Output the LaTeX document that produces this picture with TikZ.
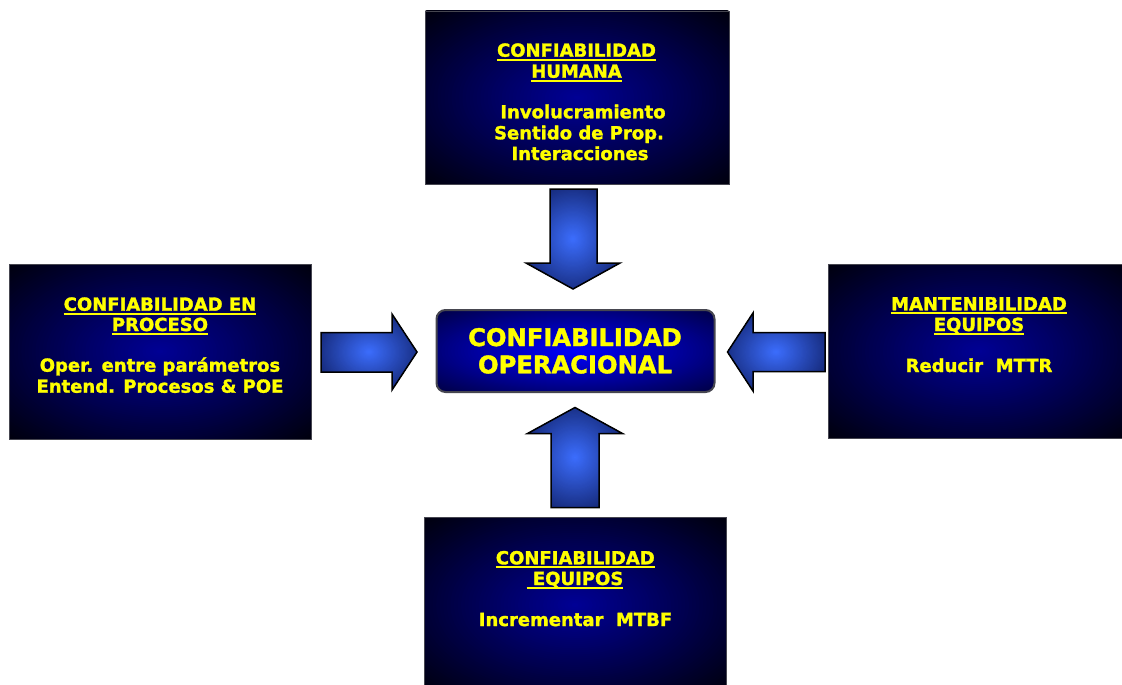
\documentclass[tikz,border=0pt]{standalone}
\usepackage{fontspec}
\setmainfont{DejaVu Sans}[BoldFeatures={FakeBold=1.6}]

% palette
\definecolor{txtyellow}{RGB}{255,255,0}
\definecolor{panelin}{RGB}{0,0,150}
\definecolor{panelout}{RGB}{0,0,14}
\definecolor{corein}{RGB}{0,0,255}
\definecolor{coreout}{RGB}{0,0,70}
\definecolor{arrin}{RGB}{60,110,255}
\definecolor{arrout}{RGB}{12,25,90}
\definecolor{panelrule}{RGB}{70,70,80}

% soft glow: nested ellipses from the outer colour (t=1, at the corners) to the inner one
% #1,#2 centre  #3,#4 half sizes of the bounding box  #5 inner colour  #6 outer colour
\newcommand\glowfill[6]{%
  \foreach \gi in {60,59,...,1}{%
    \pgfmathsetmacro\gt{\gi/60}%
    \pgfmathsetmacro\gp{100*\gt}%
    \fill[#6!\gp!#5] (#1,#2) ellipse [x radius={1.4142*\gt*#3}, y radius={1.4142*\gt*#4}];
  }%
}

% thick underline for the headings
\newcommand\ulbar[1]{\setbox0\hbox{#1}\rlap{\rule[-4pt]{\wd0}{2pt}}\box0}

\tikzset{
  panel/.style={draw=panelrule, line width=0.8pt, inner sep=0pt},
  corebox/.style={draw=panelrule, line width=2pt, rounded corners=9pt, inner sep=0pt},
  lbl/.style={text=txtyellow, font=\fontsize{18}{21}\selectfont\bfseries, inner sep=0pt, anchor=base},
  corelbl/.style={text=txtyellow, font=\fontsize{24.2}{28}\selectfont\bfseries, inner sep=0pt, anchor=base},
  blockarrow/.style={draw=black, line width=1.5pt, line join=miter}
}

% a panel: shaded rectangle with its outline, named #1
\newcommand\panel[5]{% name, cx, cy, width, height
  \begin{scope}
    \clip (#2-#4/2,#3-#5/2) rectangle (#2+#4/2,#3+#5/2);
    \glowfill{#2}{#3}{#4/2}{#5/2}{panelin}{panelout}
  \end{scope}
  \node[panel, minimum width=#4 pt, minimum height=#5 pt] (#1) at (#2,#3) {};
}

% a block arrow given by its outline; #2..#5 is the glow box (cx, cy, half w, half h)
\newcommand\blockarrow[5]{%
  \begin{scope}
    \clip #1;
    \glowfill{#2}{#3}{#4}{#5}{arrin}{arrout}
  \end{scope}
  \draw[blockarrow] #1;
}

\begin{document}
\begin{tikzpicture}[x=1pt, y=-1pt]
\fill[white] (0,0) rectangle (1122,685);
\useasboundingbox (0,0) rectangle (1122,685);

% outer panels
\panel{hum}{577}{97.75}{304}{173.5}
\panel{proc}{160}{351.5}{302}{175}
\panel{mant}{979}{351.25}{302}{174.5}
\panel{equi}{575}{605}{302}{175}

% central goal
\begin{scope}
  \clip[rounded corners=9pt] (436.5,310) rectangle (714.5,392);
  \glowfill{575.5}{351}{139}{41}{corein}{coreout}
\end{scope}
\node[corebox, minimum width=278pt, minimum height=82pt] (core) at (575.5,351) {};

% block arrows pointing at the central goal
\blockarrow{(550,189) -- (597,189) -- (597,263) -- (620,263) -- (573,289) -- (526,263) -- (550,263) -- cycle}{573}{239}{47}{50}
\blockarrow{(551,507.5) -- (599,507.5) -- (599,433.5) -- (622.5,433.5) -- (575,407.5) -- (527.5,433.5) -- (551,433.5) -- cycle}{575}{457.5}{47.5}{50}
\blockarrow{(321,332.5) -- (392,332.5) -- (392,314) -- (417,352) -- (392,390) -- (392,372) -- (321,372) -- cycle}{369}{352}{48}{38}
\blockarrow{(825,332.5) -- (753,332.5) -- (753,313) -- (727.5,352) -- (753,391) -- (753,371.5) -- (825,371.5) -- cycle}{776}{352}{48.5}{39}

% human reliability
\node[lbl] (hum1) at (576.5,56.7) {\ulbar{CONFIABILIDAD}};
\node[lbl] (hum2) at (576.5,77.7) {\ulbar{HUMANA}};
\node[lbl] (hum3) at (583,118.3) {Involucramiento};
\node[lbl] (hum4) at (579,139.3) {Sentido de Prop.};
\node[lbl] (hum5) at (580,160) {Interacciones};

% process reliability
\node[lbl] (proc1) at (160,310.7) {\ulbar{CONFIABILIDAD EN}};
\node[lbl] (proc2) at (160,331) {\ulbar{PROCESO}};
\node[lbl] (proc3) at (160,371.7) {Oper. entre parámetros};
\node[lbl] (proc4) at (160,392.7) {Entend. Procesos \& POE};

% maintainability
\node[lbl] (mant1) at (979,310.3) {\ulbar{MANTENIBILIDAD}};
\node[lbl] (mant2) at (979,331) {\ulbar{EQUIPOS}};
\node[lbl] (mant3) at (979,372) {Reducir\ \ MTTR};

% equipment reliability
\node[lbl] (equi1) at (575.3,564.3) {\ulbar{CONFIABILIDAD}};
\node[lbl] (equi2) at (575,585) {\ulbar{\ EQUIPOS}};
\node[lbl] (equi3) at (575.5,626) {Incrementar\ \ MTBF};

% central goal text
\node[corelbl] (core1) at (575,346) {CONFIABILIDAD};
\node[corelbl] (core2) at (575,373.3) {OPERACIONAL};
\end{tikzpicture}
\end{document}
